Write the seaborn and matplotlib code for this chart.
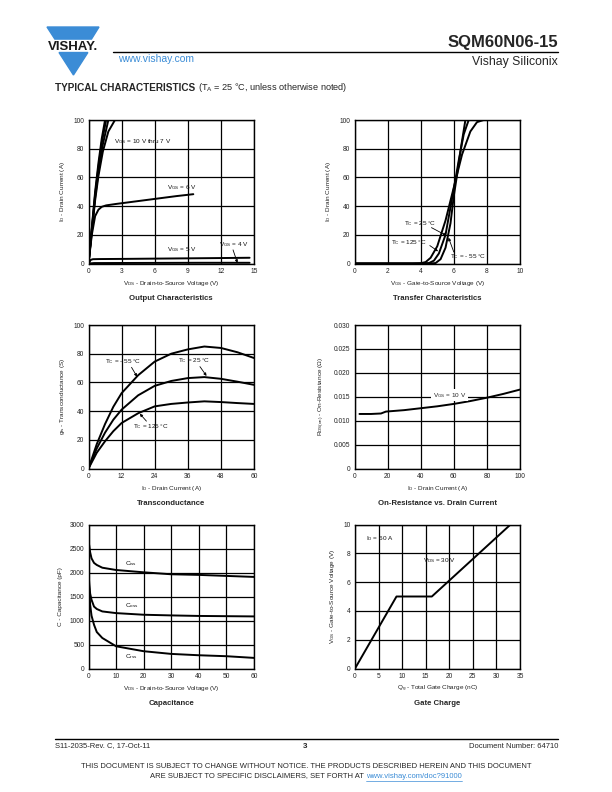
import numpy as np
import matplotlib
matplotlib.use("Agg")
import matplotlib.pyplot as plt
from matplotlib.patches import Polygon
import seaborn as sns

# ---- data ----
# Output characteristics (VDS in V, ID in A)
out_vgs10_vds = [0, 0.3, 0.6, 0.9, 1.2, 1.5]
out_vgs10_id = [0, 25, 50, 70, 87, 100]
out_vgs9_vds = [0, 0.3, 0.6, 0.9, 1.2, 1.6]
out_vgs9_id = [0, 24, 48, 67, 84, 100]
out_vgs8_vds = [0, 0.3, 0.6, 0.9, 1.3, 1.8]
out_vgs8_id = [0, 23, 46, 64, 83, 100]
out_vgs7_vds = [0, 0.3, 0.6, 0.9, 1.3, 1.8, 2.4]
out_vgs7_id = [0, 22, 44, 61, 78, 92, 100]
out_vgs6_vds = [0, 0.3, 0.6, 0.9, 1.2, 1.6, 2.5, 4, 6, 8, 9.5]
out_vgs6_id = [0, 20, 33, 37.5, 39.5, 40.5, 41.5, 43, 45, 47, 48.3]
out_vgs5_vds = [0, 0.2, 0.4, 1, 3, 6, 9, 12, 14.6]
out_vgs5_id = [0, 2.5, 3.0, 3.1, 3.2, 3.4, 3.6, 3.8, 4.0]
out_vgs4_vds = [0, 0.5, 5, 10, 14.6]
out_vgs4_id = [0, 0.3, 0.4, 0.5, 0.5]

# Transfer characteristics (VGS in V, ID in A)
tr_125_vgs = [0, 3.5, 4.0, 4.3, 4.6, 5.0, 5.5, 6.0, 6.5, 7.0, 7.4, 7.8]
tr_125_id = [0, 0, 0.2, 1, 4, 12, 30, 53, 76, 92, 98.5, 100]
tr_25_vgs = [0, 4.0, 4.5, 4.8, 5.1, 5.5, 6.0, 6.3, 6.6, 6.9]
tr_25_id = [0, 0, 0.3, 2, 7, 20, 52, 72, 90, 100]
tr_m55_vgs = [0, 4.5, 4.9, 5.2, 5.5, 5.8, 6.0, 6.2, 6.45, 6.7]
tr_m55_id = [0, 0, 0.3, 3, 11, 28, 47, 62, 82, 100]

# Transconductance (ID in A, gfs in S)
gfs_id = [0, 3, 6, 9, 12, 18, 24, 30, 36, 42, 48, 54, 60]
gfs_m55 = [0, 17, 31, 43, 52.5, 65, 74.5, 80, 83, 85, 84, 81, 77]
gfs_25 = [0, 14, 25, 34, 41, 51, 57.6, 61, 63, 63.7, 62.5, 60.5, 58.3]
gfs_125 = [0, 11, 19, 26, 31.7, 38.5, 43.3, 45, 46, 46.8, 46.3, 45.6, 45]

# On-resistance vs drain current (ID in A, RDS(on) in ohm)
rds_id = [3, 10, 16, 19, 30, 40, 50, 60, 70, 80, 90, 100]
rds_on = [0.0114, 0.0114, 0.0115, 0.0119, 0.0122, 0.0126, 0.0130, 0.0135, 0.0141, 0.0148, 0.0156, 0.0165]

# Capacitance (VDS in V, C in pF)
cap_vds = [0, 0.3, 0.6, 1.1, 2, 3, 5, 10, 20, 30, 40, 50, 60]
cap_ciss = [2650, 2550, 2420, 2295, 2200, 2157, 2100, 2052, 2004, 1963, 1950, 1929, 1908]
cap_coss = [1990, 1750, 1560, 1431, 1290, 1240, 1189, 1154, 1120, 1106, 1095, 1090, 1085]
cap_crss = [1950, 1600, 1330, 1100, 912, 760, 636, 463, 360, 304, 276, 256, 221]

# Gate charge (Qg in nC, VGS in V)
gc_qg = [0, 8.8, 16.3, 33.0]
gc_vgs = [0, 5.0, 5.0, 10.0]

W, H = 612, 792
BLUE = "#3b8cd6"

sns.set_theme(style="white")
plt.rcParams["font.family"] = ["Liberation Sans", "DejaVu Sans"]
plt.rcParams["mathtext.fontset"] = "custom"
plt.rcParams["mathtext.rm"] = "Liberation Sans"
plt.rcParams["mathtext.it"] = "Liberation Sans:italic"
plt.rcParams["mathtext.bf"] = "Liberation Sans:bold"

fig = plt.figure(figsize=(W / 100, H / 100), dpi=100)
fig.patch.set_facecolor("white")


def fx(x):
    return x / W


def fy(y):
    return 1 - y / H


def s(main, sub):
    return main + r"$_{\rm " + sub + "}$"


def make_ax(box, xlim, ylim, xticks, yticks, xlab, ylab, title, ytl=None):
    l, t, r, b = box
    ax = fig.add_axes([fx(l), fy(b), (r - l) / W, (b - t) / H])
    ax.set_xlim(xlim)
    ax.set_ylim(ylim)
    ax.set_xticks(xticks)
    ax.set_yticks(yticks)
    if ytl is not None:
        ax.set_yticklabels(ytl)
    ax.grid(True, color="black", lw=0.9)
    ax.tick_params(length=0, labelsize=4.8, pad=3, colors="#222222")
    for sp in ax.spines.values():
        sp.set_color("black")
        sp.set_linewidth(1.0)
    ax.set_xlabel(xlab, fontsize=4.6, labelpad=3, color="#222222")
    ax.set_ylabel(ylab, fontsize=4.6, labelpad=5, color="#222222")
    fig.text(fx((l + r) / 2), fy(b + 35), title, ha="center", va="center",
             fontsize=5.6, fontweight="bold")
    return ax


def curve(ax, x, y):
    sns.lineplot(x=x, y=y, ax=ax, color="black", lw=1.4, estimator=None,
                 sort=False, legend=False)


def note(ax, txt, xy, **kw):
    ax.text(xy[0], xy[1], txt, fontsize=4.6, va="center", color="#111111", **kw)


def arrow(ax, start, end):
    ax.annotate("", xy=end, xytext=start,
                arrowprops=dict(arrowstyle="-|>", color="black", lw=0.6,
                                mutation_scale=4, shrinkA=0, shrinkB=0))


L1, R1, L2, R2 = 88.5, 254, 354.5, 520
rows = [(120, 263.5), (325, 468.5), (524.5, 668.5)]

# 1. Output characteristics
ax = make_ax((L1, rows[0][0], R1, rows[0][1]), (0, 15), (0, 100),
             [0, 3, 6, 9, 12, 15], [0, 20, 40, 60, 80, 100],
             s("V", "DS") + " - Drain-to-Source Voltage (V)",
             s("I", "D") + " - Drain Current (A)", "Output Characteristics")
for xv, yv in [(out_vgs10_vds, out_vgs10_id), (out_vgs9_vds, out_vgs9_id),
               (out_vgs8_vds, out_vgs8_id), (out_vgs7_vds, out_vgs7_id),
               (out_vgs6_vds, out_vgs6_id), (out_vgs5_vds, out_vgs5_id),
               (out_vgs4_vds, out_vgs4_id)]:
    curve(ax, xv, yv)
note(ax, s("V", "GS") + " = 10 V thru 7 V", (2.3, 85))
note(ax, s("V", "GS") + " = 6 V", (7.1, 53))
note(ax, s("V", "GS") + " = 5 V", (7.1, 9.7))
note(ax, s("V", "GS") + " = 4 V", (11.8, 13.2))
arrow(ax, (13.1, 9.5), (13.5, 0.4))

# 2. Transfer characteristics
ax = make_ax((L2, rows[0][0], R2, rows[0][1]), (0, 10), (0, 100),
             [0, 2, 4, 6, 8, 10], [0, 20, 40, 60, 80, 100],
             s("V", "GS") + " - Gate-to-Source Voltage (V)",
             s("I", "D") + " - Drain Current (A)", "Transfer Characteristics")
for xv, yv in [(tr_125_vgs, tr_125_id), (tr_25_vgs, tr_25_id), (tr_m55_vgs, tr_m55_id)]:
    curve(ax, xv, yv)
note(ax, s("T", "C") + " = 25 °C", (3.0, 28))
arrow(ax, (4.65, 25), (5.55, 19.5))
note(ax, s("T", "C") + " = 125 °C", (2.2, 14.5))
arrow(ax, (4.55, 12.5), (5.05, 8.5))
note(ax, s("T", "C") + " = - 55 °C", (5.8, 5))
arrow(ax, (6.0, 8), (5.68, 18))

# 3. Transconductance
ax = make_ax((L1, rows[1][0], R1, rows[1][1]), (0, 60), (0, 100),
             [0, 12, 24, 36, 48, 60], [0, 20, 40, 60, 80, 100],
             s("I", "D") + " - Drain Current (A)",
             s("g", "fs") + " - Transconductance (S)", "Transconductance")
for yv in [gfs_m55, gfs_25, gfs_125]:
    curve(ax, gfs_id, yv)
note(ax, s("T", "C") + " = - 55 °C", (6, 74.5))
arrow(ax, (15.6, 70.5), (17.6, 64))
note(ax, s("T", "C") + " = 25 °C", (32.5, 75))
arrow(ax, (40.4, 71), (42.8, 64.5))
note(ax, s("T", "C") + " = 125 °C", (16.2, 29.4))
arrow(ax, (21, 33), (18.6, 38.2))

# 4. On-resistance vs drain current
ax = make_ax((L2, rows[1][0], R2, rows[1][1]), (0, 100), (0, 0.030),
             [0, 20, 40, 60, 80, 100],
             [0, 0.005, 0.010, 0.015, 0.020, 0.025, 0.030],
             s("I", "D") + " - Drain Current (A)",
             s("R", "DS(on)") + " - On-Resistance (Ω)",
             "On-Resistance vs. Drain Current",
             ytl=["0", "0.005", "0.010", "0.015", "0.020", "0.025", "0.030"])
curve(ax, rds_id, rds_on)
ax.text(57.5, 0.0153, s("V", "GS") + " = 10 V", fontsize=4.6, ha="center",
        va="center", bbox=dict(facecolor="white", edgecolor="none", pad=1.2))

# 5. Capacitance
ax = make_ax((L1, rows[2][0], R1, rows[2][1]), (0, 60), (0, 3000),
             [0, 10, 20, 30, 40, 50, 60], [0, 500, 1000, 1500, 2000, 2500, 3000],
             s("V", "DS") + " - Drain-to-Source Voltage (V)",
             "C - Capacitance (pF)", "Capacitance")
for yv in [cap_ciss, cap_coss, cap_crss]:
    curve(ax, cap_vds, yv)
note(ax, s("C", "iss"), (13.1, 2190))
note(ax, s("C", "oss"), (13.1, 1314))
note(ax, s("C", "rss"), (13.1, 256))

# 6. Gate charge
ax = make_ax((L2 + 0.5, rows[2][0], R2, rows[2][1]), (0, 35), (0, 10),
             [0, 5, 10, 15, 20, 25, 30, 35], [0, 2, 4, 6, 8, 10],
             s("Q", "g") + " - Total Gate Charge (nC)",
             s("V", "GS") + " - Gate-to-Source Voltage (V)", "Gate Charge")
curve(ax, gc_qg, gc_vgs)
note(ax, s("I", "D") + " = 60 A", (2.4, 9.0))
note(ax, s("V", "DS") + " = 30 V", (14.5, 7.5))

# ---- page header ----
def lp(zx, zy):
    return (fx(47 + (zx - 42) * 52 / 173), fy(27 + (zy - 22) * 48 / 143))


fig.patches.append(Polygon([lp(42, 22), lp(215, 22), lp(190, 58), lp(68, 58)],
                           closed=True, color=BLUE, transform=fig.transFigure))
fig.patches.append(Polygon([lp(82, 98), lp(178, 98), lp(130, 165)],
                           closed=True, color=BLUE, transform=fig.transFigure))
fig.text(fx(73), fy(46.5), "VISHAY.", ha="center", va="center", fontsize=9.5,
         fontweight="bold", color="#1a1a1a")
fig.add_artist(plt.Line2D([fx(113), fx(558)], [fy(52), fy(52)], color="black",
                          lw=1.0, transform=fig.transFigure))
fig.text(fx(118), fy(58.5), "www.vishay.com", ha="left", va="center",
         fontsize=7.5, color=BLUE)
fig.text(fx(558), fy(42), "SQM60N06-15", ha="right", va="center", fontsize=12,
         fontweight="bold")
fig.text(fx(558), fy(62), "Vishay Siliconix", ha="right", va="center", fontsize=8.8)

renderer = fig.canvas.get_renderer()
t1 = fig.text(fx(55), fy(88), "TYPICAL CHARACTERISTICS", ha="left", va="center",
              fontsize=7.2, fontweight="bold")
bb = t1.get_window_extent(renderer)
fig.text(fx(bb.x1 + 3), fy(88), "(" + s("T", "A") + " = 25 °C, unless otherwise noted)",
         ha="left", va="center", fontsize=6.6)

# ---- page footer ----
fig.add_artist(plt.Line2D([fx(55), fx(558)], [fy(739), fy(739)], color="black",
                          lw=1.0, transform=fig.transFigure))
fig.text(fx(55), fy(746), "S11-2035-Rev. C, 17-Oct-11", ha="left", va="center", fontsize=5.5)
fig.text(fx(305), fy(747), "3", ha="center", va="center", fontsize=5.8, fontweight="bold")
fig.text(fx(558), fy(746), "Document Number: 64710", ha="right", va="center", fontsize=5.5)
fig.text(fx(306), fy(767), "THIS DOCUMENT IS SUBJECT TO CHANGE WITHOUT NOTICE. THE PRODUCTS "
         "DESCRIBED HEREIN AND THIS DOCUMENT", ha="center", va="center", fontsize=5.5)
d1 = fig.text(0, fy(776), "ARE SUBJECT TO SPECIFIC DISCLAIMERS, SET FORTH AT ",
              ha="left", va="center", fontsize=5.5)
d2 = fig.text(0, fy(776), "www.vishay.com/doc?91000", ha="left", va="center",
              fontsize=5.5, color=BLUE)
w1 = d1.get_window_extent(renderer).width
w2 = d2.get_window_extent(renderer).width
x0 = 306 - (w1 + w2) / 2
d1.set_x(fx(x0))
d2.set_x(fx(x0 + w1))
fig.add_artist(plt.Line2D([fx(x0 + w1), fx(x0 + w1 + w2)], [fy(780.5), fy(780.5)],
                          color=BLUE, lw=0.5, transform=fig.transFigure))

fig.savefig("out.png", dpi=100, facecolor="white")
